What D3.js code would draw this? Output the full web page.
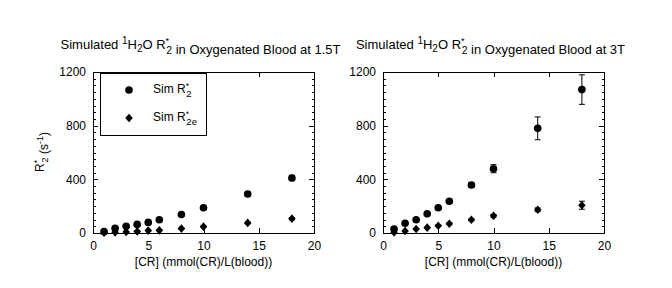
<!DOCTYPE html>
<html>
<head>
<meta charset="utf-8">
<script src="https://cdn.jsdelivr.net/npm/d3@7"></script>
<style>
  body { margin: 0; background: #fff; }
  text { font-family: "Liberation Sans", Arial, sans-serif; fill: #000; }
</style>
</head>
<body>
<div id="chart"></div>
<script>
// concentrations [CR] (mmol/L blood)
const conc = [1, 2, 3, 4, 5, 6, 8, 10, 14, 18];

// 1.5T panel
const r2Star15 = [10, 35, 50, 64, 79, 99, 138, 188, 291, 410];
const r2StarErr15 = [3, 4, 5, 5, 6, 7, 8, 10, 14, 20];
const r2eStar15 = [3, 5, 8, 12, 18, 20, 33, 47, 75, 107];
const r2eStarErr15 = [1, 2, 2, 3, 3, 3, 4, 5, 6, 8];

// 3T panel
const r2Star3 = [30, 72, 99, 143, 188, 237, 358, 479, 780, 1069];
const r2StarErr3 = [5, 6, 8, 10, 12, 14, 18, 30, 85, 110];
const r2eStar3 = [5, 15, 30, 40, 54, 69, 99, 128, 173, 207];
const r2eStarErr3 = [2, 3, 4, 5, 6, 7, 8, 10, 14, 30];

const xTicks = [0, 5, 10, 15, 20];
const yTicks = [0, 400, 800, 1200];

const W = 672, H = 288;
const panels = [
  { field: '1.5T', left: 93, sets: [[r2Star15, r2StarErr15], [r2eStar15, r2eStarErr15]], legend: true },
  { field: '3T', left: 383, sets: [[r2Star3, r2StarErr3], [r2eStar3, r2eStarErr3]], legend: false }
];
const plotTop = 72, plotBottom = 233, pw = 221;

// matlab-like diamond (nearly as wide as tall)
const diamond = {
  draw(ctx, size) {
    const w = Math.sqrt(size) * 0.62, h = Math.sqrt(size) * 0.72;
    ctx.moveTo(0, -h); ctx.lineTo(w, 0); ctx.lineTo(0, h); ctx.lineTo(-w, 0); ctx.closePath();
  }
};
const circleSize = 46, diamondSize = 36;

const svg = d3.select('#chart').append('svg')
  .attr('width', W).attr('height', H);

// helper: R*2 with stacked star/subscript
function addR2(t, sub, size) {
  t.append('tspan').text('R');
  t.append('tspan').attr('font-size', size * 0.7).attr('dy', -size * 0.35).text('*');
  t.append('tspan').attr('font-size', size * 0.8).attr('dx', -size * 0.22).attr('dy', size * 0.7).text(sub);
  t.append('tspan').attr('dy', -size * 0.35).text('');
}

panels.forEach(p => {
  const x = d3.scaleLinear().domain([0, 20]).range([p.left, p.left + pw]);
  const y = d3.scaleLinear().domain([0, 1200]).range([plotBottom, plotTop]);
  const g = svg.append('g');

  // frame
  g.append('rect')
    .attr('x', p.left).attr('y', plotTop).attr('width', pw).attr('height', plotBottom - plotTop)
    .attr('fill', 'none').attr('stroke', '#000').attr('stroke-width', 1)
    .attr('shape-rendering', 'crispEdges');

  // axes (ticks pointing inward)
  g.append('g').attr('transform', `translate(0,${plotBottom})`)
    .call(d3.axisBottom(x).tickValues(xTicks).tickSizeInner(-5).tickSizeOuter(0).tickPadding(8));
  g.append('g').attr('transform', `translate(0,${plotTop})`)
    .call(d3.axisTop(x).tickValues(xTicks).tickSizeInner(-5).tickSizeOuter(0).tickFormat(''));
  g.append('g').attr('transform', `translate(${p.left},0)`)
    .call(d3.axisLeft(y).tickValues(yTicks).tickFormat(d3.format('d')).tickSizeInner(-5).tickSizeOuter(0).tickPadding(7));
  g.append('g').attr('transform', `translate(${p.left + pw},0)`)
    .call(d3.axisRight(y).tickValues(yTicks).tickSizeInner(-5).tickSizeOuter(0).tickFormat(''));
  // minor y ticks
  const minor = d3.range(0, 1201, 50).filter(v => v % 400 !== 0);
  g.append('g').attr('transform', `translate(${p.left},0)`)
    .call(d3.axisLeft(y).tickValues(minor).tickSizeInner(-2.5).tickSizeOuter(0).tickFormat(''));
  g.append('g').attr('transform', `translate(${p.left + pw},0)`)
    .call(d3.axisRight(y).tickValues(minor).tickSizeInner(-2.5).tickSizeOuter(0).tickFormat(''));
  g.selectAll('.domain').remove();
  g.selectAll('.tick line').attr('shape-rendering', 'crispEdges');
  g.selectAll('.tick text').attr('font-size', 12).attr('font-family', '"Liberation Sans", Arial, sans-serif');

  // error bars + markers
  p.sets.forEach(([vals, errs], si) => {
    conc.forEach((c, i) => {
      const cx = x(c), lo = y(vals[i] - errs[i]), hi = y(vals[i] + errs[i]);
      g.append('line').attr('x1', cx).attr('x2', cx).attr('y1', lo).attr('y2', hi)
        .attr('stroke', '#000').attr('stroke-width', 1);
      [lo, hi].forEach(yy => g.append('line')
        .attr('x1', cx - 3).attr('x2', cx + 3).attr('y1', yy).attr('y2', yy)
        .attr('stroke', '#000').attr('stroke-width', 1));
    });
    const sym = si === 0 ? d3.symbolCircle : diamond;
    const size = si === 0 ? circleSize : diamondSize;
    g.selectAll(`.m${si}`).data(conc).join('path')
      .attr('class', `m${si}`)
      .attr('transform', (d, i) => `translate(${x(d)},${y(vals[i])})`)
      .attr('d', d3.symbol(sym, size))
      .attr('fill', '#000');
  });

  // title
  const cx = p.left + pw / 2 - 3;
  const t = svg.append('text').attr('x', cx).attr('y', 49)
    .attr('text-anchor', 'middle').attr('font-size', 13);
  t.append('tspan').text('Simulated ');
  t.append('tspan').attr('font-size', 10).attr('dy', -5).text('1');
  t.append('tspan').attr('dy', 5).text('H');
  t.append('tspan').attr('font-size', 10).attr('dy', 3).text('2');
  t.append('tspan').attr('dy', -3).text('O ');
  addR2(t, '2', 13);
  t.append('tspan').text(' in Oxygenated Blood at ' + p.field);

  // x label
  svg.append('text').attr('x', p.left + pw / 2).attr('y', 266)
    .attr('text-anchor', 'middle').attr('font-size', 12)
    .text('[CR] (mmol(CR)/L(blood))');

  if (p.legend) {
    const lg = svg.append('g');
    lg.append('rect').attr('x', 100).attr('y', 73).attr('width', 106).attr('height', 62)
      .attr('fill', '#fff').attr('stroke', '#000').attr('shape-rendering', 'crispEdges');
    [['2', d3.symbolCircle, circleSize, 90], ['2e', diamond, diamondSize, 118]].forEach(([sub, sym, sz, ly]) => {
      lg.append('path').attr('transform', `translate(129,${ly})`)
        .attr('d', d3.symbol(sym, sz)).attr('fill', '#000');
      const lt = lg.append('text').attr('x', 153).attr('y', ly + 3).attr('font-size', 12);
      lt.append('tspan').text('Sim ');
      addR2(lt, sub, 12);
    });
  }
});

// y label
const yl = svg.append('text')
  .attr('transform', 'translate(44,152) rotate(-90)')
  .attr('text-anchor', 'middle').attr('font-size', 12);
addR2(yl, '2', 12);
yl.append('tspan').text(' (s');
yl.append('tspan').attr('font-size', 9).attr('dy', -5).text('-1');
yl.append('tspan').attr('dy', 5).text(')');
</script>
</body>
</html>
